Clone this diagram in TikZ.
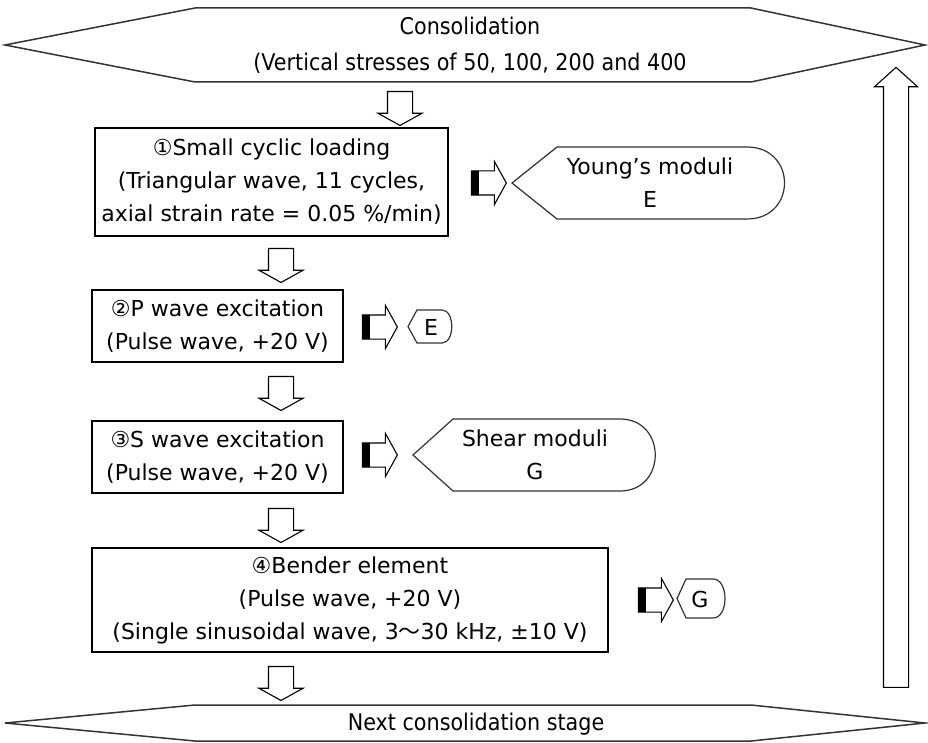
\documentclass[tikz,border=0pt]{standalone}
\usepackage{fontspec}
\setmainfont{DejaVu Sans}
\newfontfamily\narrowfont[FakeStretch=0.9]{DejaVu Sans}
\newfontfamily\cjk{Noto Sans CJK JP}
\usetikzlibrary{shapes.arrows}

\begin{document}
\begin{tikzpicture}[x=1pt,y=-1pt,
    every node/.style={font=\fontsize{22}{33}\selectfont, align=center},
    stepbox/.style={draw, line width=1.2pt, inner sep=0pt},
    hexline/.style={draw=black!80, line width=1.5pt},
    displine/.style={draw=black!80, line width=1.2pt},
    blockarrow/.style={single arrow, draw, line width=1.1pt,
      single arrow tip angle=122, single arrow head extend=9.5pt},
    downarrow/.style={blockarrow, inner sep=12pt, shape border rotate=270, minimum height=34pt},
    resarrow/.style={blockarrow, inner sep=11.5pt, minimum height=35pt,
      path picture={\fill ([xshift=-1pt]path picture bounding box.south west)
        rectangle ([xshift=8pt]path picture bounding box.north west);}},
    uparrow/.style={single arrow, draw, line width=1.1pt, inner sep=12pt,
      single arrow tip angle=96, single arrow head extend=9pt,
      shape border rotate=90, minimum height=620pt}
  ]
  \useasboundingbox (0,0) rectangle (928,743);

  % consolidation stages
  \draw[hexline] (5,45) -- (195,8) -- (751,8) -- (925,45) -- (751,82) -- (195,82) -- cycle;
  \node[font=\narrowfont\fontsize{23}{36}\selectfont] (cons) at (470,45)
    {Consolidation\\(Vertical stresses of 50, 100, 200 and 400};
  \draw[hexline] (5,723) -- (195,705) -- (751,705) -- (925,723) -- (751,741) -- (195,741) -- cycle;
  \node[font=\narrowfont\fontsize{23}{36}\selectfont] (next) at (476,724) {Next consolidation stage};

  % test steps
  \node[stepbox, minimum width=353pt, minimum height=108pt] (small) at (271.5,182)
    {①Small cyclic loading\\(Triangular wave, 11 cycles,\\axial strain rate = 0.05 \%/min)};
  \node[stepbox, minimum width=251pt, minimum height=72pt] (pwave) at (217.5,326)
    {②P wave excitation\\(Pulse wave, +20 V)};
  \node[stepbox, minimum width=251pt, minimum height=72pt] (swave) at (217.5,457)
    {③S wave excitation\\(Pulse wave, +20 V)};
  \node[stepbox, minimum width=516pt, minimum height=104pt] (bender) at (350,600)
    {④Bender element\\(Pulse wave, +20 V)\\(Single sinusoidal wave, 3{\cjk ～}30 kHz, ±10 V)};

  % results
  \foreach \xa/\xb/\xc/\xd/\ya/\yb in {512/557/747/797/147/219, 408/417/442/455/310/343,
                                       413/453/620/667/419/491, 677/686/713/729/579/618}
    \draw[displine] (\xa,{(\ya+\yb)/2}) -- (\xb,\ya) -- (\xc,\ya)
      .. controls (\xd,\ya) and (\xd,\yb) .. (\xc,\yb) -- (\xb,\yb) -- cycle;
  \node (young) at (650,183) {Young's moduli\\E};
  \node (pe)    at (431,327) {E};
  \node (shear) at (535,455) {Shear moduli\\G};
  \node (bg)    at (700,599) {G};

  % arrows
  \node[downarrow] (a1) at (400,105) {};
  \foreach \y [count=\i from 2] in {262,390,522,680}
    \node[downarrow] (a\i) at (281,\y) {};
  \node[resarrow] (r1) at (485.5,183) {};
  \node[resarrow] (r2) at (376.5,327) {};
  \node[resarrow] (r3) at (376.5,455) {};
  \node[resarrow] (r4) at (652.5,600) {};
  \node[uparrow] (back) at (896,383) {};
\end{tikzpicture}
\end{document}
